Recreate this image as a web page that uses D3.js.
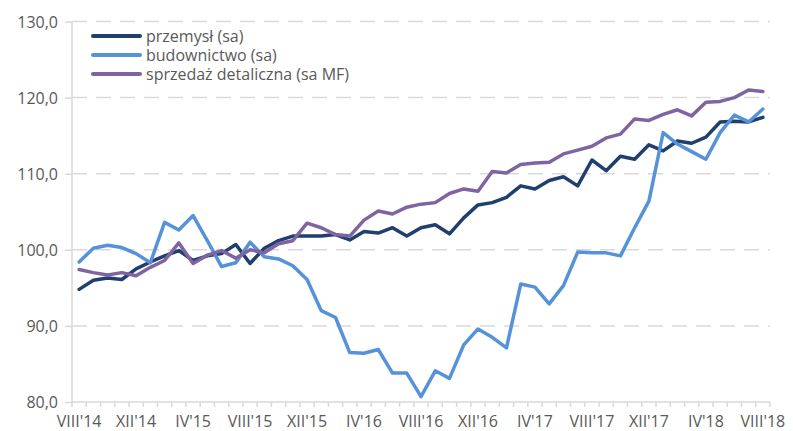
<!DOCTYPE html>
<html>
<head>
<meta charset="utf-8">
<script src="https://cdn.jsdelivr.net/npm/d3@7"></script>
<style>
  body { margin: 0; background: #ffffff; }
  #chart text { font-family: "Open Sans", "Liberation Sans", sans-serif; fill: #595959; }
  .grid-line { stroke: #d9d9d9; stroke-width: 1.5; stroke-dasharray: 15 9; }
  .axis-line { stroke: #d9d9d9; stroke-width: 1.5; }
  .series-line { fill: none; stroke-width: 3.5; stroke-linejoin: round; stroke-linecap: round; }
</style>
</head>
<body>
<svg id="chart" width="793" height="431"></svg>
<script>
// months Aug 2014 .. Aug 2018, one label every 4 months
const MONTHS = ["VIII", "IX", "X", "XI", "XII", "I", "II", "III", "IV", "V", "VI", "VII"];
const START_YEAR = 14;
const NUM_POINTS = 49;
const TICK_EVERY = 4;

const Y_TICKS = [80, 90, 100, 110, 120, 130];

const SERIES_NAMES = ["przemysł (sa)", "budownictwo (sa)", "sprzedaż detaliczna (sa MF)"];
const SERIES_COLORS = ["#1f3f6e", "#5692da", "#8064a2"];

const przemysl = [
  94.8, 96.0, 96.3, 96.1, 97.5, 98.4, 99.2, 99.9, 98.6, 99.2,
  99.5, 100.7, 98.2, 100.2, 101.2, 101.8, 101.8, 101.8, 102.0, 101.3,
  102.4, 102.2, 102.9, 101.8, 102.9, 103.3, 102.1, 104.2, 105.9, 106.2,
  106.9, 108.4, 108.0, 109.1, 109.6, 108.4, 111.8, 110.4, 112.3, 111.9,
  113.8, 113.0, 114.3, 114.0, 114.8, 116.8, 116.9, 116.8, 117.4
];

const budownictwo = [
  98.4, 100.2, 100.6, 100.3, 99.5, 98.3, 103.6, 102.6, 104.5, 101.2,
  97.8, 98.3, 101.0, 99.1, 98.8, 97.9, 96.1, 92.0, 91.1, 86.5,
  86.4, 86.9, 83.8, 83.8, 80.7, 84.1, 83.1, 87.5, 89.6, 88.5,
  87.1, 95.5, 95.1, 92.9, 95.3, 99.7, 99.6, 99.6, 99.2, 102.9,
  106.4, 115.4, 113.9, 112.9, 111.9, 115.4, 117.7, 116.8, 118.5
];

const sprzedaz = [
  97.4, 97.0, 96.7, 97.0, 96.6, 97.7, 98.6, 100.9, 98.2, 99.3,
  99.9, 98.9, 100.0, 99.6, 100.8, 101.2, 103.5, 102.9, 102.0, 101.8,
  103.9, 105.1, 104.7, 105.6, 106.0, 106.2, 107.4, 108.0, 107.7, 110.3,
  110.1, 111.2, 111.4, 111.5, 112.6, 113.1, 113.6, 114.7, 115.2, 117.2,
  117.0, 117.8, 118.4, 117.6, 119.4, 119.5, 120.0, 121.0, 120.8
];


class LineChartPresenter {

  constructor(svgId) {
    const self = this;

    self._svg = d3.select(svgId);
    self._left = 72;
    self._right = 770;
    self._top = 21.5;
    self._bottom = 402;

    self._numFormat = (x) => d3.format(".1f")(x).replace(".", ",");

    self._labels = d3.range(NUM_POINTS).map((i) => {
      const year = START_YEAR + Math.floor((i + 7) / 12);
      return MONTHS[i % 12] + "'" + year;
    });

    self._xScale = d3.scaleBand()
      .domain(d3.range(NUM_POINTS))
      .range([self._left, self._right]);

    self._yScale = d3.scaleLinear()
      .domain([80, 130])
      .range([self._bottom, self._top]);
  }

  draw() {
    const self = this;

    self._drawGrid();
    self._drawAxes();
    self._drawSeries([przemysl, budownictwo, sprzedaz]);
    self._drawLegend();
  }

  _xCenter(i) {
    const self = this;
    return self._xScale(i) + self._xScale.bandwidth() / 2;
  }

  _drawGrid() {
    const self = this;

    self._svg.append("g")
      .selectAll(".grid-line")
      .data(Y_TICKS.filter((x) => x > 80))
      .enter()
      .append("line")
      .classed("grid-line", true)
      .attr("x1", self._left)
      .attr("x2", self._right)
      .attr("y1", (x) => self._yScale(x))
      .attr("y2", (x) => self._yScale(x));
  }

  _drawAxes() {
    const self = this;

    const yAxis = d3.axisLeft(self._yScale)
      .tickValues(Y_TICKS)
      .tickSize(7)
      .tickPadding(7)
      .tickFormat(self._numFormat);

    const yGroup = self._svg.append("g")
      .attr("transform", "translate(" + self._left + ",0)")
      .call(yAxis);

    yGroup.select(".domain").remove();
    yGroup.selectAll("line").classed("axis-line", true).attr("stroke", null);
    yGroup.selectAll("text")
      .attr("font-size", 16)
      .attr("dy", "0.36em");

    self._svg.append("line")
      .classed("axis-line", true)
      .attr("x1", self._left)
      .attr("x2", self._left)
      .attr("y1", self._top)
      .attr("y2", self._bottom);

    self._svg.append("line")
      .classed("axis-line", true)
      .attr("x1", self._left)
      .attr("x2", self._right)
      .attr("y1", self._bottom)
      .attr("y2", self._bottom);

    // small tick marks between the months
    self._svg.append("g")
      .selectAll(".x-tick")
      .data(d3.range(NUM_POINTS + 1))
      .enter()
      .append("line")
      .classed("axis-line", true)
      .attr("x1", (i) => self._left + i * self._xScale.step())
      .attr("x2", (i) => self._left + i * self._xScale.step())
      .attr("y1", self._bottom)
      .attr("y2", self._bottom + 5);

    self._svg.append("g")
      .selectAll(".x-label")
      .data(d3.range(0, NUM_POINTS, TICK_EVERY))
      .enter()
      .append("text")
      .classed("x-label", true)
      .attr("x", (i) => self._xCenter(i))
      .attr("y", 427)
      .attr("text-anchor", "middle")
      .attr("font-size", 16)
      .text((i) => self._labels[i]);
  }

  _drawSeries(allSeries) {
    const self = this;

    const line = d3.line()
      .x((d, i) => self._xCenter(i))
      .y((d) => self._yScale(d));

    self._svg.append("g")
      .selectAll(".series-line")
      .data(allSeries)
      .enter()
      .append("path")
      .classed("series-line", true)
      .attr("stroke", (d, i) => SERIES_COLORS[i])
      .attr("d", (d) => line(d));
  }

  _drawLegend() {
    const self = this;

    const legend = self._svg.append("g")
      .attr("transform", "translate(93,36)");

    const items = legend.selectAll(".legend-item")
      .data(SERIES_NAMES)
      .enter()
      .append("g")
      .classed("legend-item", true)
      .attr("transform", (d, i) => "translate(0," + (i * 19) + ")");

    items.append("line")
      .attr("x1", 0)
      .attr("x2", 47)
      .attr("stroke", (d, i) => SERIES_COLORS[i])
      .attr("stroke-width", 4)
      .attr("stroke-linecap", "round");

    items.append("text")
      .attr("x", 53)
      .attr("dy", "0.35em")
      .attr("font-size", 16)
      .text((d) => d);
  }

}

const presenter = new LineChartPresenter("#chart");
presenter.draw();
</script>
</body>
</html>
